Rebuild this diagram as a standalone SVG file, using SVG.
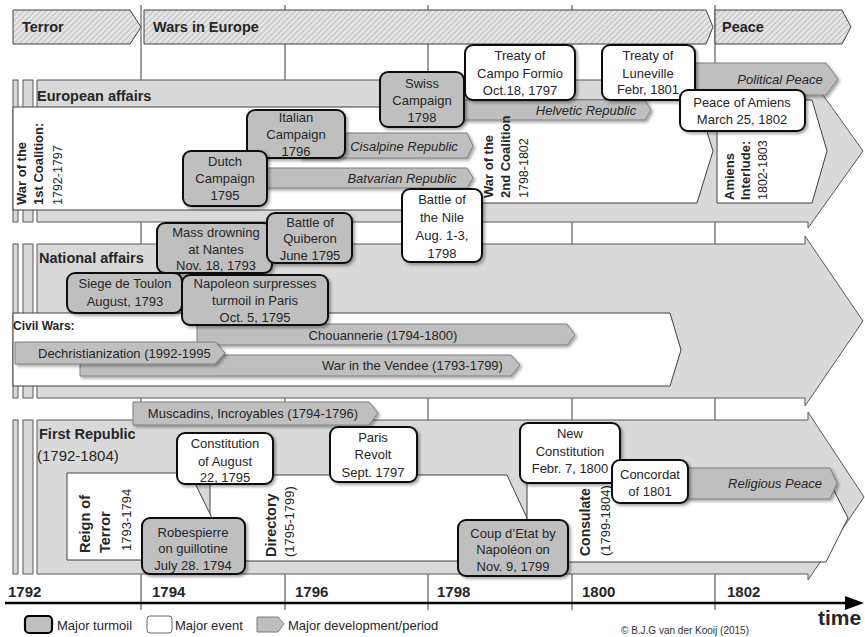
<svg xmlns="http://www.w3.org/2000/svg" width="865" height="637" viewBox="0 0 865 637">
<defs>
<pattern id="hatch" width="4" height="4" patternUnits="userSpaceOnUse" patternTransform="rotate(45)">
<rect width="4" height="4" fill="#e4e4e4"/>
<line x1="0" y1="0" x2="0" y2="4" stroke="#a8a8a8" stroke-width="1.2"/>
</pattern>
<filter id="sh" x="-10%" y="-10%" width="130%" height="140%">
<feDropShadow dx="2" dy="2" stdDeviation="1.5" flood-color="#000" flood-opacity="0.35"/>
</filter>
<style>
text{font-family:"Liberation Sans",Arial,sans-serif;fill:#262626}
.grid{stroke:#404040;stroke-width:1}
.ban{fill:url(#hatch);stroke:#404040;stroke-width:1}
.bt{font-size:14.5px;font-weight:bold}
.band{fill:#d9d9d9;stroke:#595959;stroke-width:1}
.wp{fill:#fff;stroke:#404040;stroke-width:1}
.wpf{fill:#fff;stroke:none}
.wps{fill:none;stroke:#404040;stroke-width:1}
.dev{fill:#bfbfbf;stroke:#7f7f7f;stroke-width:1;filter:url(#sh)}
.dt{font-size:13px;text-anchor:middle}
.it{font-style:italic}
.turm{fill:#bfbfbf;stroke:#111;stroke-width:2;filter:url(#sh)}
.evt{fill:#fff;stroke:#111;stroke-width:2;filter:url(#sh)}
.bx{font-size:13px;text-anchor:middle}
.vb{font-size:13px;font-weight:bold}
.vr{font-size:12.5px}
.sec{font-size:14.5px;font-weight:bold}
.yr{font-size:15px;font-weight:bold}
.lg{font-size:13px}
</style>
</defs>
<rect width="865" height="637" fill="#fff"/>

<g id="grid">
<line class="grid" x1="141" y1="5" x2="141" y2="610"/>
<line class="grid" x1="285" y1="5" x2="285" y2="610"/>
<line class="grid" x1="428" y1="5" x2="428" y2="610"/>
<line class="grid" x1="572" y1="5" x2="572" y2="610"/>
<line class="grid" x1="715" y1="5" x2="715" y2="610"/>
</g>

<g id="banner-terror"><path class="ban" d="M13,10 H130 L141,27 L130,44 H13 Z"/><text class="bt" x="22" y="32">Terror</text></g>
<g id="banner-wars"><path class="ban" d="M144,10 H706 L713,27 L706,44 H144 Z"/><text class="bt" x="153" y="32">Wars in Europe</text></g>
<g id="banner-peace"><path class="ban" d="M715,10 H842 L851,27 L842,44 H715 Z"/><text class="bt" x="722" y="32">Peace</text></g>

<!-- European affairs section -->
<g id="sec-european">
<rect class="band" x="13" y="80" width="5" height="142"/>
<rect class="band" x="23" y="80" width="10" height="142"/>
<path class="band" d="M37,80 H808 V74 L863,151 L808,228 V222 H37 Z"/>
<text class="sec" x="37" y="101">European affairs</text>
<path class="wp" d="M13,107 H482 V210 H13 Z"/>
<path class="wpf" d="M478,100 H697 L713,151 L697,203 H478 Z"/>
<path class="wps" d="M478,100 H697 L713,151 L697,203 H482"/>
<path class="wp" d="M717,100 H812 L827,151 L812,203 H717 Z"/>
</g>

<!-- National affairs section -->
<g id="sec-national">
<rect class="band" x="13" y="244" width="5" height="154"/>
<rect class="band" x="23" y="244" width="10" height="154"/>
<path class="band" d="M37,244 H805 V236 L863,321 L805,406 V398 H37 Z"/>
<text class="sec" x="39" y="263">National affairs</text>
<path class="wp" d="M13,313 H670 L681,350 L670,386 H13 Z"/>
<text x="13" y="330" style="font-size:12px;font-weight:bold">Civil Wars:</text>
</g>

<!-- First Republic section -->
<g id="sec-republic">
<rect class="band" x="13" y="420" width="5" height="154"/>
<rect class="band" x="23" y="420" width="10" height="154"/>
<path class="band" d="M37,420 H808 V412 L864,497 L808,580 V574 H37 Z"/>
<text class="sec" x="39" y="439">First Republic</text>
<text x="37" y="461" style="font-size:15px">(1792-1804)</text>
<path class="wp" d="M210,475 H507 L527,518 L507,561 H210 Z"/>
<path class="wp" d="M67,473 H190 L212,518 L190,560 H67 Z"/>
<path class="wp" d="M527,475 H826 L848,518 L826,562 H527 Z"/>
</g>

<!-- development arrows -->
<g id="connectors">
<g id="dev-political"><path class="dev" d="M690,63 H826 L838,79 L826,95 H690 Z"/><text class="dt it" x="780" y="84">Political Peace</text></g>
<g id="dev-helvetic"><path class="dev" d="M460,100 H645 L651,110 L645,120 H460 Z"/><text class="dt it" x="586" y="115">Helvetic Republic</text></g>
<g id="dev-cisalpine"><path class="dev" d="M300,133 H467 L473,146 L467,158 H300 Z"/><text class="dt it" x="404" y="151">Cisalpine Republic</text></g>
<g id="dev-batvarian"><path class="dev" d="M255,168 H467 L473,178 L467,188 H255 Z"/><text class="dt it" x="402" y="183">Batvarian Republic</text></g>
<g id="dev-chouannerie"><path class="dev" d="M197,324 H567 L575,335 L567,345 H197 Z"/><text class="dt" x="383" y="340">Chouannerie (1794-1800)</text></g>
<g id="dev-vendee"><path class="dev" d="M80,355 H511 L520,365 L511,376 H80 Z"/><text class="dt" x="322" y="370" style="text-anchor:start">War in the Vendee (1793-1799)</text></g>
<g id="dev-dechrist"><path class="dev" d="M15,342 H215 L225,353 L215,364 H15 Z"/><text class="dt" x="38" y="358" style="text-anchor:start">Dechristianization (1992-1995</text></g>
<g id="dev-muscadins"><path class="dev" d="M133,402 H369 L378,413 L369,425 H133 Z"/><text class="dt" x="253" y="418">Muscadins, Incroyables (1794-1796)</text></g>
<g id="dev-religious"><path class="dev" d="M640,468 H830 L837,483 L830,499 H640 Z"/><text class="dt it" x="775" y="488">Religious Peace</text></g>
</g>

<!-- vertical period labels -->
<g id="lbl-coal1">
<text class="vb" transform="translate(26,205) rotate(-90)">War of the</text>
<text class="vb" transform="translate(43,205) rotate(-90)">1st Coalition:</text>
<text class="vr" transform="translate(62,205) rotate(-90)">1792-1797</text>
</g>
<g id="lbl-coal2">
<text class="vb" transform="translate(493,198) rotate(-90)">War of the</text>
<text class="vb" transform="translate(510,198) rotate(-90)">2nd Coalition</text>
<text class="vr" transform="translate(528,198) rotate(-90)">1798-1802</text>
</g>
<g id="lbl-amiens">
<text class="vb" transform="translate(734,200) rotate(-90)">Amiens</text>
<text class="vb" transform="translate(750,200) rotate(-90)">Interlude:</text>
<text class="vr" transform="translate(767,200) rotate(-90)">1802-1803</text>
</g>
<g id="lbl-reign">
<text class="sec" transform="translate(90,553) rotate(-90)">Reign of</text>
<text class="sec" transform="translate(110,553) rotate(-90)">Terror</text>
<text transform="translate(131,551) rotate(-90)" style="font-size:13px">1793-1794</text>
</g>
<g id="lbl-directory">
<text class="sec" transform="translate(276,557) rotate(-90)" style="font-size:14.5px">Directory</text>
<text transform="translate(294,557) rotate(-90)" style="font-size:13px">(1795-1799)</text>
</g>
<g id="lbl-consulate">
<text class="sec" transform="translate(590,556) rotate(-90)" style="font-size:14px">Consulate</text>
<text transform="translate(610,556) rotate(-90)" style="font-size:13px">(1799-1804)</text>
</g>

<!-- European boxes -->
<g id="n-italian"><rect class="turm" x="247" y="110" width="98" height="48" rx="8"/><text class="bx" x="296" y="122">Italian</text><text class="bx" x="296" y="139">Campaign</text><text class="bx" x="296" y="156">1796</text></g>
<g id="n-dutch"><rect class="turm" x="183" y="151" width="84" height="55" rx="8"/><text class="bx" x="225" y="166">Dutch</text><text class="bx" x="225" y="183">Campaign</text><text class="bx" x="225" y="200">1795</text></g>
<g id="n-swiss"><rect class="turm" x="380" y="72" width="84" height="55" rx="8"/><text class="bx" x="422" y="88">Swiss</text><text class="bx" x="422" y="105">Campaign</text><text class="bx" x="422" y="122">1798</text></g>
<g id="n-campo"><rect class="evt" x="465" y="45" width="110" height="55" rx="8"/><text class="bx" x="520" y="60">Treaty of</text><text class="bx" x="520" y="78">Campo Formio</text><text class="bx" x="520" y="95">Oct.18, 1797</text></g>
<g id="n-luneville"><rect class="evt" x="602" y="45" width="93" height="55" rx="8"/><text class="bx" x="648" y="60">Treaty of</text><text class="bx" x="648" y="78">Luneville</text><text class="bx" x="648" y="94">Febr, 1801</text></g>
<g id="n-amiens"><rect class="evt" x="680" y="90" width="125" height="41" rx="8"/><text class="bx" x="742" y="107">Peace of Amiens</text><text class="bx" x="742" y="124">March 25, 1802</text></g>
<g id="n-nile"><rect class="evt" x="402" y="189" width="80" height="73" rx="8"/><text class="bx" x="442" y="204">Battle of</text><text class="bx" x="442" y="222">the Nile</text><text class="bx" x="442" y="240">Aug. 1-3,</text><text class="bx" x="442" y="258">1798</text></g>

<!-- National boxes -->
<g id="n-nantes"><rect class="turm" x="157" y="223" width="115" height="50" rx="8"/><text class="bx" x="216" y="237">Mass drowning</text><text class="bx" x="216" y="254">at Nantes</text><text class="bx" x="216" y="270">Nov. 18, 1793</text></g>
<g id="n-quiberon"><rect class="turm" x="267" y="213" width="85" height="50" rx="8"/><text class="bx" x="310" y="227">Battle of</text><text class="bx" x="310" y="243">Quiberon</text><text class="bx" x="310" y="260">June 1795</text></g>
<g id="n-toulon"><rect class="turm" x="67" y="273" width="115" height="40" rx="8"/><text class="bx" x="125" y="288">Siege de Toulon</text><text class="bx" x="125" y="306">August, 1793</text></g>
<g id="n-napoleon"><rect class="turm" x="182" y="275" width="146" height="50" rx="8"/><text class="bx" x="255" y="288">Napoleon surpresses</text><text class="bx" x="255" y="305">turmoil in Paris</text><text class="bx" x="255" y="322">Oct. 5, 1795</text></g>

<!-- First Republic boxes -->
<g id="n-constitution"><rect class="evt" x="177" y="433" width="96" height="51" rx="8"/><text class="bx" x="225" y="448">Constitution</text><text class="bx" x="225" y="466">of August</text><text class="bx" x="225" y="482">22, 1795</text></g>
<g id="n-paris"><rect class="evt" x="330" y="427" width="87" height="55" rx="8"/><text class="bx" x="373" y="442">Paris</text><text class="bx" x="373" y="459">Revolt</text><text class="bx" x="373" y="477">Sept. 1797</text></g>
<g id="n-newconst"><rect class="evt" x="520" y="423" width="100" height="60" rx="8"/><text class="bx" x="570" y="438">New</text><text class="bx" x="570" y="456">Constitution</text><text class="bx" x="570" y="473">Febr. 7, 1800</text></g>
<g id="n-concordat"><rect class="evt" x="612" y="460" width="76" height="43" rx="8"/><text class="bx" x="650" y="479">Concordat</text><text class="bx" x="650" y="496">of 1801</text></g>
<g id="n-robespierre"><rect class="turm" x="142" y="518" width="103" height="56" rx="8"/><text class="bx" x="193" y="537">Robespierre</text><text class="bx" x="193" y="553">on guillotine</text><text class="bx" x="193" y="570">July 28. 1794</text></g>
<g id="n-coup"><rect class="turm" x="458" y="520" width="110" height="56" rx="8"/><text class="bx" x="513" y="538">Coup d’Etat by</text><text class="bx" x="513" y="554">Napoléon on</text><text class="bx" x="513" y="571">Nov. 9, 1799</text></g>

<!-- axis -->
<g id="axis">
<line x1="5" y1="603" x2="848" y2="603" stroke="#000" stroke-width="2.5"/>
<path d="M845,596 L864,603 L845,610 Z" fill="#000"/>
<text class="yr" x="8" y="597">1792</text>
<text class="yr" x="152" y="597">1794</text>
<text class="yr" x="295" y="597">1796</text>
<text class="yr" x="437" y="597">1798</text>
<text class="yr" x="582" y="597">1800</text>
<text class="yr" x="727" y="597">1802</text>
<text x="818" y="625" style="font-size:21px;font-weight:bold">time</text>
</g>

<!-- legend -->
<g id="legend">
<rect x="25" y="616" width="27" height="17" rx="4" fill="#bfbfbf" stroke="#000" stroke-width="2.2"/>
<text class="lg" x="57" y="630">Major turmoil</text>
<rect x="147" y="616" width="25" height="17" rx="3" fill="#fff" stroke="#666" stroke-width="1"/>
<text class="lg" x="175" y="630">Major event</text>
<path d="M257,617 H278 L284,624 L278,632 H257 Z" fill="#bfbfbf" stroke="#7f7f7f" stroke-width="1"/>
<text class="lg" x="288" y="630">Major development/period</text>
<text x="621" y="634" style="font-size:10px;fill:#333">© B.J.G van der Kooij (2015)</text>
</g>
</svg>
